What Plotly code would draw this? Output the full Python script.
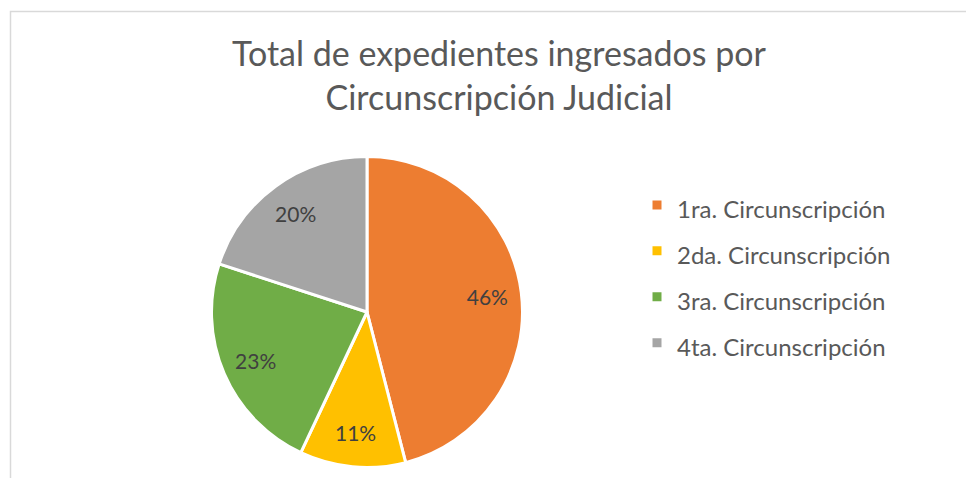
import plotly.graph_objects as go

labels = ["1ra. Circunscripción", "2da. Circunscripción", "3ra. Circunscripción", "4ta. Circunscripción"]
values = [46, 11, 23, 20]
colors = ["#ED7D31", "#FFC000", "#70AD47", "#A5A5A5"]
title_text = "Total de expedientes ingresados por<br>Circunscripción Judicial"

# the page body has an 8px margin: figure is sized to fit the 974x478 window
W, H = 966, 470
OFF = 8
FONT = "Lato"

def px(x):
    return (x - OFF) / W

def py(y):
    return 1 - (y - OFF) / H

CX, CY, R = 367, 312, 155.5
domain = dict(x=[px(CX - R), px(CX + R)], y=[py(CY + R), py(CY - R)])

legend_labels = ['<span style="font-size:24px">%s</span>' % l for l in labels]

pie = go.Pie(
    labels=legend_labels,
    values=values,
    sort=False,
    direction="clockwise",
    rotation=0,
    marker=dict(colors=colors, line=dict(color="white", width=3)),
    textinfo="none",
    domain=domain,
    hoverinfo="label+percent",
)

# transparent ring carrying the percentage labels (places them toward the rim, like Excel)
pie_labels = go.Pie(
    labels=legend_labels,
    values=values,
    sort=False,
    direction="clockwise",
    rotation=0,
    hole=0.56,
    marker=dict(colors=["rgba(0,0,0,0)"] * len(values), line=dict(width=0)),
    texttemplate="%{percent:.0%}",
    textposition="inside",
    insidetextorientation="horizontal",
    textfont=dict(family=FONT, size=21, color="#404040"),
    domain=domain,
    showlegend=False,
    hoverinfo="skip",
)

fig = go.Figure([pie, pie_labels])

fig.update_layout(
    width=W, height=H,
    margin=dict(l=0, r=0, t=0, b=0),
    paper_bgcolor="white",
    plot_bgcolor="white",
    font=dict(family=FONT, color="#595959"),
    title=dict(text=title_text, x=px(499), xanchor="center", y=py(66), yanchor="top",
               font=dict(family=FONT, size=34, color="#595959")),
    showlegend=True,
    legend=dict(x=px(637), xanchor="left", y=py(177), yanchor="top",
                font=dict(family=FONT, size=33, color="#595959"),
                bgcolor="rgba(0,0,0,0)"),
    shapes=[dict(type="rect", xref="paper", yref="paper",
                 x0=px(10.5), x1=1.05, y0=-0.05, y1=py(11.5),
                 line=dict(color="#D9D9D9", width=1.5), fillcolor="rgba(0,0,0,0)", layer="below")],
)

fig.write_html("out.html")
